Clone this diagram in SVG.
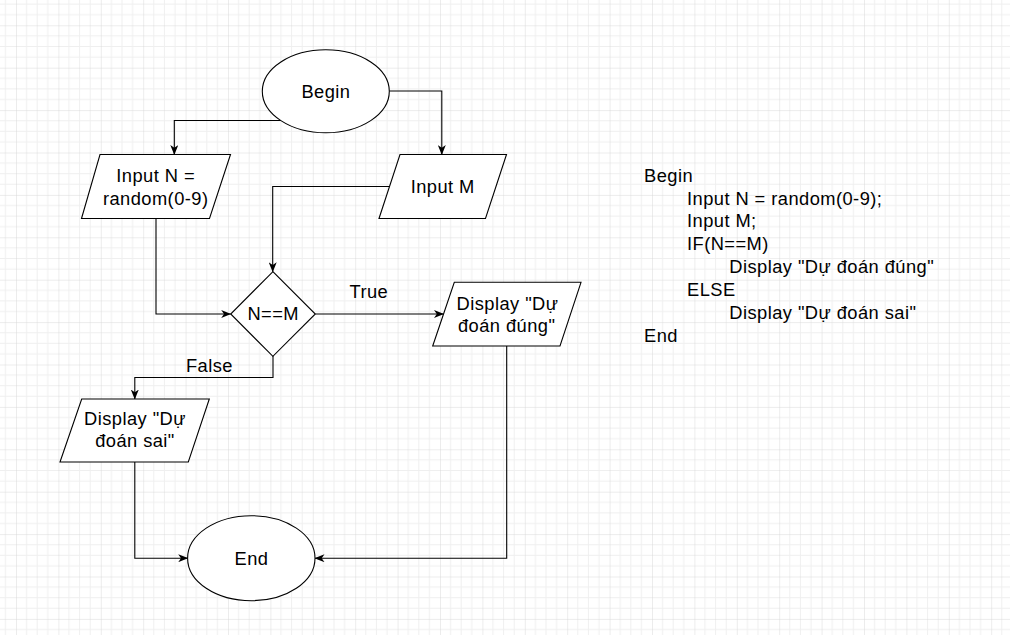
<svg xmlns="http://www.w3.org/2000/svg" width="1010" height="635" viewBox="0 0 1010 635">
<defs>
<pattern id="grid" x="16" y="25.3" width="42.4" height="42.4" patternUnits="userSpaceOnUse">
<path d="M10.6,0V42.4M21.2,0V42.4M31.8,0V42.4M0,10.6H42.4M0,21.2H42.4M0,31.8H42.4" stroke="#efefef" stroke-width="1" fill="none"/>
<path d="M0,0V42.4M0,0H42.4" stroke="#d9d9d9" stroke-width="1" fill="none"/>
</pattern>
<marker id="arr" viewBox="0 0 10 8" refX="9.5" refY="4" markerWidth="10" markerHeight="8" markerUnits="userSpaceOnUse" orient="auto">
<path d="M0,0 L10,4 L0,8 L2.8,4 z" fill="#000"/>
</marker>
<style>
.s{fill:#fff;stroke:#000;stroke-width:1.1}
.c{fill:none;stroke:#000;stroke-width:1.1;marker-end:url(#arr)}
text{font-family:"Liberation Sans",Arial,sans-serif;font-size:18.3px;letter-spacing:0.45px;fill:#000}
.m{text-anchor:middle}
</style>
</defs>
<rect width="1010" height="635" fill="#fff"/>
<rect width="1010" height="635" fill="url(#grid)"/>
<g id="connectors">
<path class="c" d="M281,120.5 L174.3,120.5 L174.3,154.5"/>
<path class="c" d="M389.3,91 L441.8,91 L441.8,154.5"/>
<path class="c" d="M389.5,186.5 L272.7,186.5 L272.7,271.7"/>
<path class="c" d="M156,218.5 L156,314 L230.7,314"/>
<path class="c" d="M315.3,314 L443.5,314"/>
<path class="c" d="M273,356 L273,377.5 L134.8,377.5 L134.8,399"/>
<path class="c" d="M134.8,462 L134.8,558.2 L187.7,558.2"/>
<path class="c" d="M506.7,346 L506.7,558.2 L315,558.2"/>
<text class="m" x="368.9" y="298.3">True</text>
<text class="m" x="209.4" y="372.3">False</text>
</g>
<g id="begin">
<ellipse class="s" cx="325.8" cy="91.3" rx="63.5" ry="41.5"/>
<text class="m" x="325.9" y="98.3">Begin</text>
</g>
<g id="inputN">
<polygon class="s" points="100,154.5 230.5,154.5 209.5,218.5 81.5,218.5"/>
<text class="m" x="155.7" y="181.7">Input N =</text>
<text class="m" x="155.7" y="205">random(0-9)</text>
</g>
<g id="inputM">
<polygon class="s" points="400,154.5 506.5,154.5 485.5,218.5 379,218.5"/>
<text class="m" x="442.7" y="193.3">Input M</text>
</g>
<g id="decision">
<polygon class="s" points="272.9,271.7 315.3,314 272.9,356.3 230.7,314"/>
<text class="m" x="273.2" y="320.3">N==M</text>
</g>
<g id="displayTrue">
<polygon class="s" points="454.3,282.3 581,282.3 560,346 432.7,346"/>
<text class="m" x="507.5" y="309.8">Display "Dự</text>
<text class="m" x="506.7" y="332.3">đoán đúng"</text>
</g>
<g id="displayFalse">
<polygon class="s" points="81.7,399 209.3,399 188.3,462 60,462"/>
<text class="m" x="135" y="425.3">Display "Dự</text>
<text class="m" x="135" y="447.3">đoán sai"</text>
</g>
<g id="end">
<ellipse class="s" cx="251.3" cy="558.2" rx="63.7" ry="42.5"/>
<text class="m" x="251.5" y="565">End</text>
</g>
<g id="pseudocode">
<text x="644" y="181.7">Begin</text>
<text x="687" y="204.6">Input N = random(0-9);</text>
<text x="687" y="227.4">Input M;</text>
<text x="687" y="250.3">IF(N==M)</text>
<text x="729.3" y="273.1">Display "Dự đoán đúng"</text>
<text x="687" y="296">ELSE</text>
<text x="729.3" y="318.9">Display "Dự đoán sai"</text>
<text x="644" y="341.7">End</text>
</g>
</svg>
